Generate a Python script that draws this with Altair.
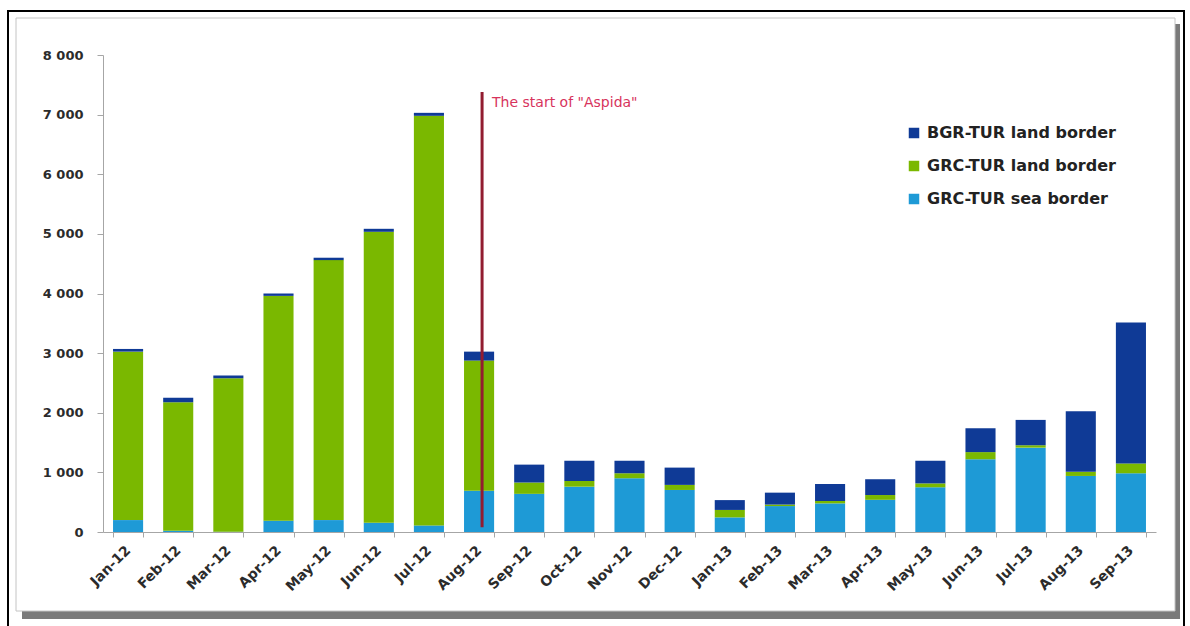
import altair as alt
import pandas as pd

months = ["Jan-12", "Feb-12", "Mar-12", "Apr-12", "May-12", "Jun-12", "Jul-12",
          "Aug-12", "Sep-12", "Oct-12", "Nov-12", "Dec-12", "Jan-13", "Feb-13",
          "Mar-13", "Apr-13", "May-13", "Jun-13", "Jul-13", "Aug-13", "Sep-13"]
sea = [200, 20, 5, 190, 200, 155, 110, 690, 640, 760, 900, 705, 245, 435,
       480, 540, 750, 1220, 1415, 940, 985]
land = [2825, 2155, 2575, 3770, 4360, 4880, 6870, 2185, 190, 95, 85, 85, 125, 25,
        40, 80, 65, 120, 40, 70, 165]
bgr = [45, 78, 45, 40, 40, 50, 50, 150, 300, 340, 210, 290, 165, 200,
       285, 265, 380, 400, 425, 1015, 2365]
series_names = ["BGR-TUR land border", "GRC-TUR land border", "GRC-TUR sea border"]
series_colors = ["#0F3A96", "#7AB800", "#1E9AD6"]

ann_month = ["Aug-12"]
ann_bottom = [80]
ann_top = [7380]
ann_text_y = [7200]
ann_label = ['The start of "Aspida"']

rows = []
for i, m in enumerate(months):
    for name, vals, order in [(series_names[2], sea, 0), (series_names[1], land, 1), (series_names[0], bgr, 2)]:
        rows.append({"month": m, "series": name, "value": vals[i], "stack_order": order})
df = pd.DataFrame(rows)
ann = pd.DataFrame({"month": ann_month, "y0": ann_bottom, "y1": ann_top,
                    "ty": ann_text_y, "label": ann_label})

PL, PT = 103, 55
W, H = 1053, 477
FONT = "DejaVu Sans"

x_scale = alt.Scale(domain=months, paddingInner=0.4, paddingOuter=0.2)
y_scale = alt.Scale(domain=[0, 8000], nice=False)

x_axis = alt.Axis(title=None, labelAngle=-45, labelAlign="right", labelBaseline="middle",
                  labelFont=FONT, labelFontSize=14, labelFontWeight="bold", labelColor="#2b2b2b",
                  tickBand="extent", tickSize=5, tickColor="#a6a6a6", domainColor="#a6a6a6",
                  labelPadding=11, grid=False, zindex=2)
y_axis = alt.Axis(title=None, values=list(range(0, 8001, 1000)),
                  labelExpr="replace(format(datum.value, ','), ',', ' ')",
                  labelFont=FONT, labelFontSize=13, labelFontWeight="bold", labelColor="#2b2b2b",
                  tickSize=6, tickColor="#a6a6a6", domainColor="#a6a6a6", labelPadding=14,
                  grid=False, zindex=2)

frame_data = alt.Data(values=[{"k": 1}])
outer = alt.Chart(frame_data).mark_rect(fill="white", stroke="black", strokeWidth=2).encode(
    x=alt.value(8 - PL), x2=alt.value(1184 - PL), y=alt.value(11 - PT), y2=alt.value(680 - PT))
shadow = alt.Chart(frame_data).mark_rect(fill="#7a7a7a").encode(
    x=alt.value(22 - PL), x2=alt.value(1180 - PL), y=alt.value(24 - PT), y2=alt.value(619 - PT))
inner = alt.Chart(frame_data).mark_rect(fill="white", stroke="#c4c4c4", strokeWidth=1).encode(
    x=alt.value(16 - PL), x2=alt.value(1175 - PL), y=alt.value(18 - PT), y2=alt.value(611 - PT))

bars = alt.Chart(df).mark_bar().encode(
    x=alt.X("month:N", sort=months, scale=x_scale, axis=x_axis),
    y=alt.Y("value:Q", stack="zero", scale=y_scale, axis=y_axis),
    color=alt.Color("series:N", scale=alt.Scale(domain=series_names, range=series_colors),
                    legend=alt.Legend(title=None, orient="none", legendX=803, legendY=70,
                                      symbolType="square", symbolSize=110, symbolStrokeWidth=0,
                                      labelFont=FONT, labelFontSize=16, labelFontWeight="bold",
                                      labelColor="#222222", rowPadding=17, labelOffset=5,
                                      labelLimit=400, padding=0)),
    order=alt.Order("stack_order:Q", sort="ascending"),
)

rule = alt.Chart(ann).mark_rule(color="#921C30", strokeWidth=3, xOffset=3).encode(
    x=alt.X("month:N", sort=months, scale=x_scale),
    y=alt.Y("y0:Q", scale=y_scale),
    y2="y1:Q",
)
text = alt.Chart(ann).mark_text(align="left", baseline="middle", dx=13, font=FONT,
                                fontSize=14, color="#D7335C").encode(
    x=alt.X("month:N", sort=months, scale=x_scale),
    y=alt.Y("ty:Q", scale=y_scale),
    text="label:N",
)

chart = alt.layer(outer, shadow, inner, bars, rule, text).properties(
    width=W, height=H,
    autosize=alt.AutoSizeParams(type="none"),
    padding={"left": PL, "top": PT, "right": 1190 - PL - W, "bottom": 626 - PT - H},
    background="white",
).configure_view(strokeWidth=0)

chart.save("out.html", embed_options={"renderer": "svg", "actions": False})
